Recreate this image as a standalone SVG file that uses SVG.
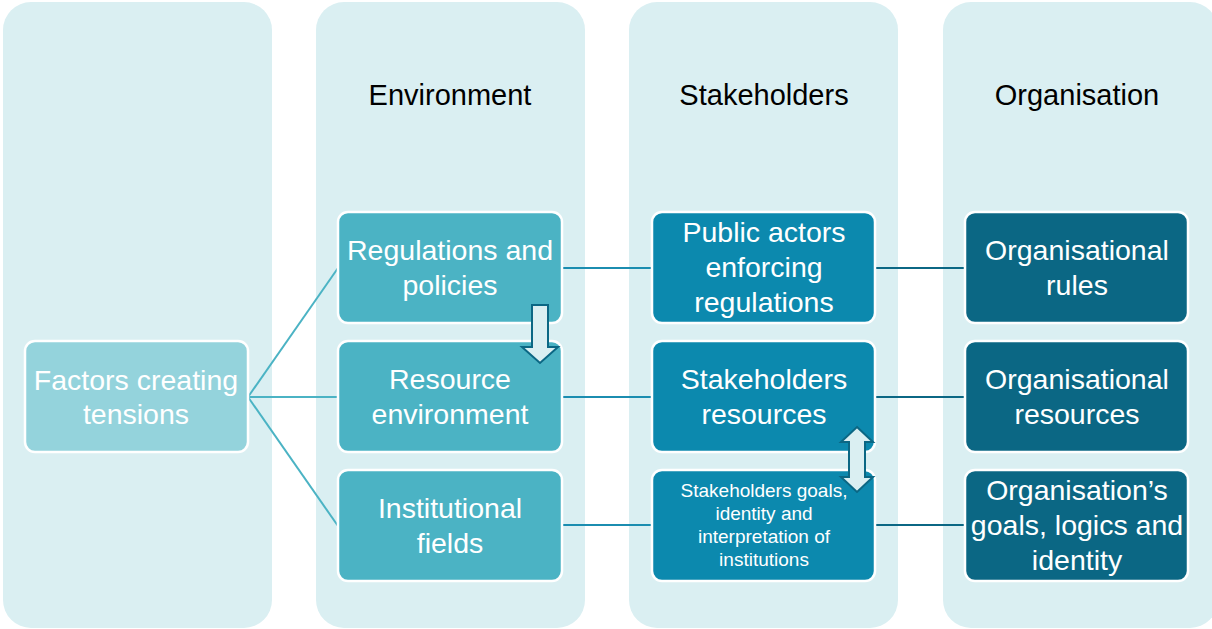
<svg xmlns="http://www.w3.org/2000/svg" width="1212" height="629" viewBox="0 0 1212 629">
<style>
.col{fill:#daeff2}
.box{stroke:#ffffff;stroke-width:2.5}
.t{font-family:"Liberation Sans",Arial,sans-serif;fill:#ffffff;text-anchor:middle;font-size:28.5px}
.s{font-size:19px}
.h{font-family:"Liberation Sans",Arial,sans-serif;fill:#000000;text-anchor:middle;font-size:29px}
.c1{stroke:#4bb3c4;stroke-width:2;fill:none}
.c2{stroke:#1b8db0;stroke-width:2;fill:none}
.c3{stroke:#0b6784;stroke-width:2;fill:none}
.arr{fill:#daeff2;stroke:#0b6784;stroke-width:2;stroke-linejoin:miter}
</style>
<rect width="1212" height="629" fill="#ffffff"/>
<g id="columns">
<rect class="col" x="3" y="2" width="269" height="626" rx="28"/>
<rect class="col" x="316" y="2" width="269" height="626" rx="28"/>
<rect class="col" x="629" y="2" width="269" height="626" rx="28"/>
<rect class="col" x="943" y="2" width="275" height="626" rx="28"/>
</g>
<g id="headers">
<text class="h" x="450" y="105">Environment</text>
<text class="h" x="764" y="105">Stakeholders</text>
<text class="h" x="1077" y="105">Organisation</text>
</g>
<g id="connectors">
<line class="c1" x1="248" y1="397" x2="338" y2="268"/>
<line class="c1" x1="248" y1="397" x2="338" y2="397"/>
<line class="c1" x1="248" y1="397" x2="338" y2="526"/>
<line class="c2" x1="562" y1="268" x2="652" y2="268"/>
<line class="c2" x1="562" y1="397" x2="652" y2="397"/>
<line class="c2" x1="562" y1="525" x2="652" y2="525"/>
<line class="c3" x1="875" y1="268" x2="965" y2="268"/>
<line class="c3" x1="875" y1="397" x2="965" y2="397"/>
<line class="c3" x1="875" y1="525" x2="965" y2="525"/>
</g>
<g id="factors">
<rect class="box" x="25" y="341" width="223" height="111" rx="10" fill="#94d3dc"/>
<text class="t" x="136" y="390">Factors creating</text>
<text class="t" x="136" y="424">tensions</text>
</g>
<g id="regulations">
<rect class="box" x="338" y="212" width="224" height="111" rx="10" fill="#4bb3c4"/>
<text class="t" x="450" y="260">Regulations and</text>
<text class="t" x="450" y="295">policies</text>
</g>
<g id="resource-env">
<rect class="box" x="338" y="341" width="224" height="111" rx="10" fill="#4bb3c4"/>
<text class="t" x="450" y="389">Resource</text>
<text class="t" x="450" y="424">environment</text>
</g>
<g id="institutional">
<rect class="box" x="338" y="470" width="224" height="111" rx="10" fill="#4bb3c4"/>
<text class="t" x="450" y="518">Institutional</text>
<text class="t" x="450" y="553">fields</text>
</g>
<g id="public-actors">
<rect class="box" x="652" y="212" width="223" height="111" rx="10" fill="#0c89ae"/>
<text class="t" x="764" y="242">Public actors</text>
<text class="t" x="764" y="277">enforcing</text>
<text class="t" x="764" y="312">regulations</text>
</g>
<g id="stake-resources">
<rect class="box" x="652" y="341" width="223" height="111" rx="10" fill="#0c89ae"/>
<text class="t" x="764" y="389">Stakeholders</text>
<text class="t" x="764" y="424">resources</text>
</g>
<g id="stake-goals">
<rect class="box" x="652" y="470" width="223" height="111" rx="10" fill="#0c89ae"/>
<text class="t s" x="764" y="497">Stakeholders goals,</text>
<text class="t s" x="764" y="520">identity and</text>
<text class="t s" x="764" y="543">interpretation of</text>
<text class="t s" x="764" y="566">institutions</text>
</g>
<g id="org-rules">
<rect class="box" x="965" y="212" width="223" height="111" rx="10" fill="#0b6784"/>
<text class="t" x="1077" y="260">Organisational</text>
<text class="t" x="1077" y="295">rules</text>
</g>
<g id="org-resources">
<rect class="box" x="965" y="341" width="223" height="111" rx="10" fill="#0b6784"/>
<text class="t" x="1077" y="389">Organisational</text>
<text class="t" x="1077" y="424">resources</text>
</g>
<g id="org-goals">
<rect class="box" x="965" y="470" width="223" height="111" rx="10" fill="#0b6784"/>
<text class="t" x="1077" y="500">Organisation’s</text>
<text class="t" x="1077" y="535">goals, logics and</text>
<text class="t" x="1077" y="570">identity</text>
</g>
<g id="arrows">
<polygon class="arr" points="532,305 548,305 548,347 558,347 540,363 522,347 532,347"/>
<polygon class="arr" points="857,427 873,442 865,442 865,477 873,477 857,492 841,477 849,477 849,442 841,442"/>
</g>
</svg>
